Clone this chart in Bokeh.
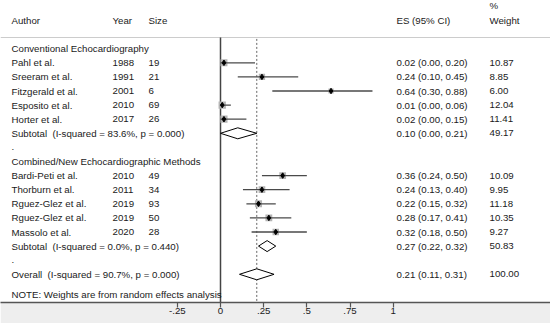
from bokeh.plotting import figure
from bokeh.models import Range1d, FixedTicker
from bokeh.core.properties import value
from bokeh.embed import file_html
from bokeh.resources import INLINE
import math

# ---------------- data ----------------
group_names = ["Conventional Echocardiography", "Combined/New Echocardiographic Methods"]

conv_authors = ["Pahl et al.", "Sreeram et al.", "Fitzgerald et al.", "Esposito et al.", "Horter et al."]
conv_years = [1988, 1991, 2001, 2010, 2017]
conv_sizes = [19, 21, 6, 69, 26]
conv_es = [0.02, 0.24, 0.64, 0.01, 0.02]
conv_lo = [0.00, 0.10, 0.30, 0.00, 0.00]
conv_hi = [0.20, 0.45, 0.88, 0.06, 0.15]
conv_w = [10.87, 8.85, 6.00, 12.04, 11.41]

comb_authors = ["Bardi-Peti et al.", "Thorburn et al.", "Rguez-Glez et al.", "Rguez-Glez et al.", "Massolo et al."]
comb_years = [2010, 2011, 2019, 2019, 2020]
comb_sizes = [49, 34, 93, 50, 28]
comb_es = [0.36, 0.24, 0.22, 0.28, 0.32]
comb_lo = [0.24, 0.13, 0.15, 0.17, 0.18]
comb_hi = [0.50, 0.40, 0.32, 0.41, 0.50]
comb_w = [10.09, 9.95, 11.18, 10.35, 9.27]

pooled_labels = ["Subtotal \u00a0(I-squared = 83.6%, p = 0.000)",
                 "Subtotal \u00a0(I-squared = 0.0%, p = 0.440)",
                 "Overall \u00a0(I-squared = 90.7%, p = 0.000)"]
pooled_es = [0.10, 0.27, 0.21]
pooled_lo = [0.00, 0.22, 0.11]
pooled_hi = [0.21, 0.32, 0.31]
pooled_w = [49.17, 50.83, 100.00]

note_text = "NOTE: Weights are from random effects analysis"
tick_values = [-0.25, 0, 0.25, 0.5, 0.75, 1]
tick_labels = ["-.25", "0", ".25", ".5", ".75", "1"]

# ---------------- layout ----------------
W = 550
FRAME_H = 302
X0_PX = 220.0      # pixel of x = 0
SCALE = 172.7      # pixels per unit
ROW = 14.1         # pixels per row
Y0_PX = 20.0       # pixel of header row

def px2x(px):
    return (px - X0_PX) / SCALE

x_start, x_end = px2x(0), px2x(W)
r_top = -Y0_PX / ROW
r_bottom = r_top + FRAME_H / ROW

FONT = value("Liberation Sans")
FS = "9.7px"
TC = "#1a1a1a"

p = figure(frame_width=W, frame_height=FRAME_H, output_backend="svg", toolbar_location=None,
           x_range=Range1d(x_start, x_end), y_range=Range1d(r_bottom, r_top),
           y_axis_location=None, min_border=0, min_border_left=0, min_border_right=0,
           min_border_top=0, min_border_bottom=21)
p.outline_line_color = None
p.xgrid.visible = False
p.ygrid.visible = False
p.background_fill_color = "white"
p.border_fill_color = "#eeeeee"

ax = p.xaxis[0]
ax.ticker = FixedTicker(ticks=tick_values)
ax.major_label_overrides = {t: l for t, l in zip(tick_values, tick_labels)}
ax.axis_line_color = "#555555"
ax.axis_line_width = 1.5
ax.major_tick_line_color = "#555555"
ax.major_tick_line_width = 1.2
ax.major_tick_out = 5
ax.major_tick_in = 0
ax.minor_tick_line_color = None
ax.major_label_standoff = 0
ax.major_label_text_font = "Liberation Sans"
ax.major_label_text_font_size = FS
ax.major_label_text_color = TC

col_author = px2x(11)
col_year = px2x(112)
col_size = px2x(148)
col_es = px2x(396)
col_w = px2x(489)

sep_r = (37 - Y0_PX) / ROW

def txt(x, y, t, baseline="middle", align="left"):
    p.text(x=x, y=y, text=t, text_font=FONT, text_font_size=FS,
           text_baseline=baseline, text_align=align, text_color=TC)

# header
txt([col_author, col_year, col_size, col_es, col_w], [0, 0, 0, 0, 0],
    ["Author", "Year", "Size", "ES (95% CI)", "Weight"])
txt([col_w], [-1.05], ["%"])

# separator
p.segment(x0=[x_start], y0=[sep_r], x1=[x_end], y1=[sep_r], line_color="#cccccc", line_width=1)

# vertical reference lines
p.segment(x0=[0], y0=[sep_r], x1=[0], y1=[r_bottom], line_color="#444444", line_width=1.5)
p.segment(x0=[pooled_es[2]], y0=[sep_r + 0.1], x1=[pooled_es[2]], y1=[r_bottom - 0.05],
          line_color="#666666", line_width=1, line_dash="2 2")

def fmt_ci(e, l, h):
    return f"{e:.2f} ({l:.2f}, {h:.2f})"

groups = [
    (conv_authors, conv_years, conv_sizes, conv_es, conv_lo, conv_hi, conv_w),
    (comb_authors, comb_years, comb_sizes, comb_es, comb_lo, comb_hi, comb_w),
]

diamond_h = 0.39
start = 2
pooled_rows = []
for gi, (au, yr, sz, e, l, h, w) in enumerate(groups):
    txt([col_author], [start], [group_names[gi]])
    rows = [start + 1 + i for i in range(len(au))]
    txt([col_author] * len(au), rows, au)
    txt([col_year] * len(au), rows, [str(v) for v in yr])
    txt([col_size] * len(au), rows, [str(v) for v in sz])
    txt([col_es] * len(au), rows, [fmt_ci(a, b, c) for a, b, c in zip(e, l, h)])
    txt([col_w] * len(au), rows, [f"{v:.2f}" for v in w])
    p.scatter(x=e, y=rows, marker="square", size=[2.12 * math.sqrt(v) for v in w],
              fill_color="#b4b4b4", line_color=None)
    p.segment(x0=l, y0=rows, x1=h, y1=rows, line_color="#4a4a4a", line_width=1.3)
    p.scatter(x=e, y=rows, marker="diamond", size=5.5, fill_color="black", line_color="black")
    sub_r = rows[-1] + 1
    pooled_rows.append(sub_r)
    txt([col_author], [sub_r + 1], ["."])
    start = sub_r + 2

pooled_rows.append(start)
txt([col_author] * 3, pooled_rows, pooled_labels)
txt([col_es] * 3, pooled_rows, [fmt_ci(a, b, c) for a, b, c in zip(pooled_es, pooled_lo, pooled_hi)])
txt([col_w] * 3, pooled_rows, [f"{v:.2f}" for v in pooled_w])
p.patches(xs=[[l, e, h, e] for e, l, h in zip(pooled_es, pooled_lo, pooled_hi)],
          ys=[[r, r - diamond_h, r, r + diamond_h] for r in pooled_rows],
          fill_color="white", line_color="black", line_width=1)

txt([col_author], [(294 - Y0_PX) / ROW], [note_text])

open("out.html", "w").write(file_html(p, INLINE))
